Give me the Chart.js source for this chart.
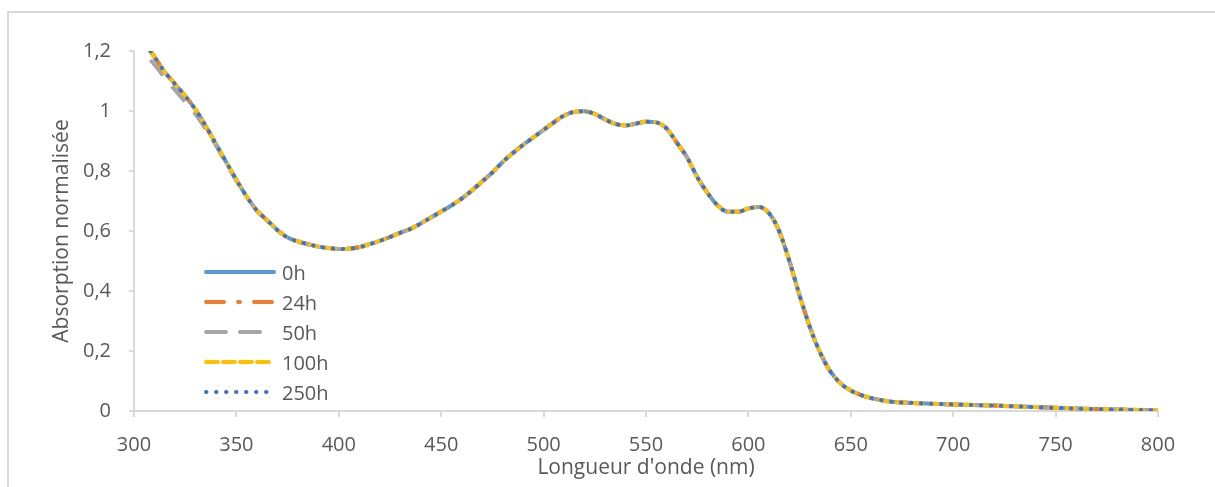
<!DOCTYPE html>
<html>
<head>
<meta charset="utf-8">
<script src="https://cdn.jsdelivr.net/npm/chart.js@4/dist/chart.umd.min.js"></script>
<style>
  html, body { margin:0; padding:0; background:#fff; overflow:hidden; }
  #wrap { position:relative; width:1215px; height:487px; }
  #frame { position:absolute; left:7px; top:11px; width:1400px; height:700px;
           border-left:2px solid #d9d9d9; border-top:2px solid #d9d9d9; }
  canvas { position:absolute; left:0; top:0; }
  #legend { position:absolute; left:0; top:0; font-family:"Open Sans", sans-serif; font-size:20px; color:#595959; }
  .li { position:absolute; left:204px; height:30px; display:flex; align-items:center; }
  .li span { margin-left:6px; }
</style>
</head>
<body>
<div id="wrap">
  <div id="frame"></div>
  <canvas id="c" width="1215" height="487"></canvas>
  <div id="legend"></div>
</div>
<script>
// ---- data ----
const wavelengths = [308,310,315,320,325,330,335,340,345,350,355,360,365,370,375,380,385,390,395,400,
  405,410,415,420,425,430,435,440,445,450,455,460,465,470,475,480,485,490,495,500,
  505,510,515,520,525,530,535,540,545,550,555,560,565,570,575,580,585,590,595,600,
  605,610,615,620,625,630,635,640,645,650,655,660,665,670,680,690,700,720,740,760,780,800];
const abs0h = [1.20,1.18,1.13,1.09,1.05,1.005,0.95,0.89,0.83,0.77,0.715,0.668,0.636,0.603,0.578,0.565,0.556,0.548,0.543,0.540,
  0.541,0.546,0.556,0.567,0.580,0.594,0.607,0.625,0.645,0.665,0.685,0.708,0.735,0.765,0.795,0.830,0.860,0.887,0.912,0.937,
  0.962,0.985,0.997,0.999,0.990,0.972,0.957,0.952,0.958,0.964,0.962,0.942,0.895,0.846,0.780,0.727,0.685,0.664,0.664,0.675,
  0.680,0.660,0.600,0.500,0.385,0.280,0.195,0.132,0.092,0.068,0.053,0.043,0.036,0.031,0.027,0.024,0.022,0.018,0.013,0.008,0.005,0.002];
const abs24h = [1.20,1.18,1.13,1.09,1.05,1.005,0.95,0.89,0.83,0.77,0.715,0.668,0.636,0.603,0.578,0.565,0.556,0.548,0.543,0.540,
  0.541,0.546,0.556,0.567,0.580,0.594,0.607,0.625,0.645,0.665,0.685,0.708,0.735,0.765,0.795,0.830,0.860,0.887,0.912,0.937,
  0.962,0.985,0.997,0.999,0.990,0.972,0.957,0.952,0.958,0.964,0.962,0.942,0.895,0.846,0.780,0.727,0.685,0.664,0.664,0.675,
  0.680,0.660,0.600,0.500,0.385,0.280,0.195,0.132,0.092,0.068,0.053,0.043,0.036,0.031,0.027,0.024,0.022,0.018,0.013,0.008,0.005,0.002];
const abs50h = [1.17,1.155,1.11,1.07,1.03,0.99,0.94,0.885,0.825,0.768,0.714,0.668,0.636,0.603,0.578,0.565,0.556,0.548,0.543,0.540,
  0.541,0.546,0.556,0.567,0.580,0.594,0.607,0.625,0.645,0.665,0.685,0.708,0.735,0.765,0.795,0.830,0.860,0.887,0.912,0.937,
  0.962,0.985,0.997,0.999,0.990,0.972,0.957,0.952,0.958,0.964,0.962,0.942,0.895,0.846,0.780,0.727,0.685,0.664,0.664,0.675,
  0.680,0.660,0.600,0.500,0.385,0.280,0.195,0.132,0.092,0.068,0.053,0.043,0.036,0.031,0.027,0.024,0.022,0.018,0.013,0.008,0.005,0.002];
const abs100h = [1.20,1.18,1.13,1.09,1.05,1.005,0.95,0.89,0.83,0.77,0.715,0.668,0.636,0.603,0.578,0.565,0.556,0.548,0.543,0.540,
  0.541,0.546,0.556,0.567,0.580,0.594,0.607,0.625,0.645,0.665,0.685,0.708,0.735,0.765,0.795,0.830,0.860,0.887,0.912,0.937,
  0.962,0.985,0.997,0.999,0.990,0.972,0.957,0.952,0.958,0.964,0.962,0.942,0.895,0.846,0.780,0.727,0.685,0.664,0.664,0.675,
  0.680,0.660,0.600,0.500,0.385,0.280,0.195,0.132,0.092,0.068,0.053,0.043,0.036,0.031,0.027,0.024,0.022,0.018,0.013,0.008,0.005,0.002];
const abs250h = [1.20,1.18,1.13,1.09,1.05,1.005,0.95,0.89,0.83,0.77,0.715,0.668,0.636,0.603,0.578,0.565,0.556,0.548,0.543,0.540,
  0.541,0.546,0.556,0.567,0.580,0.594,0.607,0.625,0.645,0.665,0.685,0.708,0.735,0.765,0.795,0.830,0.860,0.887,0.912,0.937,
  0.962,0.985,0.997,0.999,0.990,0.972,0.957,0.952,0.958,0.964,0.962,0.942,0.895,0.846,0.780,0.727,0.685,0.664,0.664,0.675,
  0.680,0.660,0.600,0.500,0.385,0.280,0.195,0.132,0.092,0.068,0.053,0.043,0.036,0.031,0.027,0.024,0.022,0.018,0.013,0.008,0.005,0.002];
const seriesLabels = ['0h','24h','50h','100h','250h'];
const xTickValues = [300,350,400,450,500,550,600,650,700,750,800];
const yTickValues = [0,0.2,0.4,0.6,0.8,1,1.2];
const xTitle = "Longueur d'onde (nm)";
const yTitle = "Absorption normalisée";

// ---- styles ----
const styles = [
  {color:'#5B9BD5', dash:[], cap:'butt', width:4},
  {color:'#ED7D31', dash:[18,14,2,14], cap:'butt', width:4},
  {color:'#A5A5A5', dash:[20,14], cap:'butt', width:4},
  {color:'#FFC000', dash:[12,5], cap:'butt', width:4},
  {color:'#4472C4', dash:[0.5,9.5], cap:'round', width:4}
];
const seriesValues = [abs0h, abs24h, abs50h, abs100h, abs250h];

const datasets = seriesLabels.map((lab, i) => ({
  label: lab,
  data: wavelengths.map((w, k) => ({x: w, y: seriesValues[i][k]})),
  borderColor: styles[i].color,
  backgroundColor: styles[i].color,
  borderWidth: styles[i].width,
  borderDash: styles[i].dash,
  borderCapStyle: styles[i].cap,
  pointRadius: 0,
  cubicInterpolationMode: 'monotone',
  fill: false,
  order: seriesLabels.length - i
}));

const fontFam = '"Open Sans", sans-serif';
const tickColor = '#595959';
const axisColor = '#d9d9d9';

new Chart(document.getElementById('c'), {
  type: 'line',
  data: { datasets },
  options: {
    responsive: false,
    animation: false,
    events: [],
    layout: { padding: { left: 0, right: 57, top: 51, bottom: 0 } },
    plugins: { legend: { display: false }, tooltip: { enabled: false } },
    scales: {
      x: {
        type: 'linear', min: 300, max: 800,
        afterBuildTicks: s => { s.ticks = xTickValues.map(v => ({value: v})); },
        afterFit: s => { s.height = 76; },
        grid: { drawOnChartArea: false, color: axisColor, tickLength: 6, lineWidth: 2 },
        border: { color: axisColor, width: 2 },
        ticks: { color: tickColor, font: { family: fontFam, size: 20 }, padding: 16, maxRotation: 0 },
        title: { display: true, text: xTitle, color: tickColor, font: { family: fontFam, size: 21 }, padding: { top: 0, bottom: 6 } }
      },
      y: {
        type: 'linear', min: 0, max: 1.2,
        afterBuildTicks: s => { s.ticks = yTickValues.map(v => ({value: v})); },
        afterFit: s => { s.width = 134; },
        grid: { drawOnChartArea: false, color: axisColor, tickLength: 5, lineWidth: 2 },
        border: { color: axisColor, width: 2 },
        ticks: { color: tickColor, font: { family: fontFam, size: 20 }, padding: 18,
                 callback: v => String(Math.round(v * 10) / 10).replace('.', ',') },
        title: { display: true, text: yTitle, color: tickColor, font: { family: fontFam, size: 21 }, padding: { top: 49, bottom: 0 } }
      }
    }
  }
});

// ---- legend (HTML, positioned inside plot area) ----
const legend = document.getElementById('legend');
seriesLabels.forEach((lab, i) => {
  const st = styles[i];
  const row = document.createElement('div');
  row.className = 'li';
  row.style.top = (257 + i * 30) + 'px';
  const svgNS = 'http://www.w3.org/2000/svg';
  const svg = document.createElementNS(svgNS, 'svg');
  svg.setAttribute('width', '72'); svg.setAttribute('height', '10');
  const ln = document.createElementNS(svgNS, 'line');
  ln.setAttribute('x1', '2'); ln.setAttribute('x2', '70');
  ln.setAttribute('y1', '5'); ln.setAttribute('y2', '5');
  ln.setAttribute('stroke', st.color);
  ln.setAttribute('stroke-width', '4');
  ln.setAttribute('stroke-linecap', 'round');
  if (st.dash.length) ln.setAttribute('stroke-dasharray', i === 4 ? '0.5 9.5' : st.dash.join(' '));
  svg.appendChild(ln);
  const sp = document.createElement('span');
  sp.textContent = lab;
  row.appendChild(svg); row.appendChild(sp);
  legend.appendChild(row);
});
</script>
</body>
</html>
